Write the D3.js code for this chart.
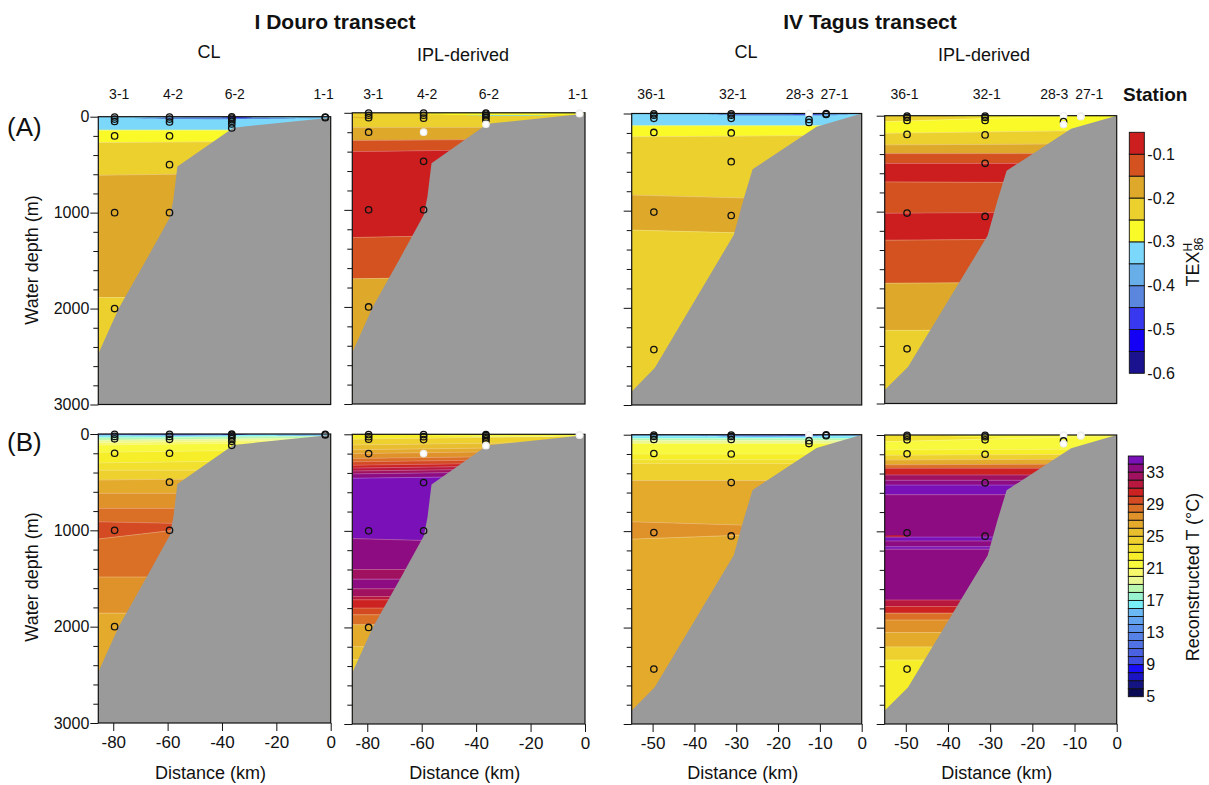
<!DOCTYPE html>
<html>
<head>
<meta charset="utf-8">
<script src="https://d3js.org/d3.v7.min.js"></script>
<style>
body { margin: 0; background: #fff; }
text { font-family: Arial, "Liberation Sans", sans-serif; fill: #111; }
</style>
</head>
<body>
<div id="chart"></div>
<script>
// ---- stations ----
var douroStations = ["3-1", "4-2", "6-2", "1-1"];
var douroKm = [-79.5, -59.3, -36.4, -2.0];
var douroLabelKm = [-77.8, -58, -35.3, -2.6];
var douroDepths = [[3, 25, 50, 200, 1000, 2000], [3, 25, 55, 200, 500, 1000], [2, 14, 30, 48, 76, 118], [3, 10]];

var tagusStations = ["36-1", "32-1", "28-3", "27-1"];
var tagusKm = [-49.7, -31.2, -12.6, -8.5];
var tagusLabelKm = [-50.3, -30.8, -14.8, -6.5];
var tagusDepths = [[3, 18, 50, 195, 1015, 2430], [3, 18, 50, 200, 496, 1050], [2, 62, 92], [2, 10]];

// samples drawn white: [station, sample]
var whiteDouroIpl = [[1, 3], [2, 5], [3, 0], [3, 1]];
var whiteTagusCl = [[2, 0]];
var whiteTagusIpl = [[2, 0], [2, 2], [3, 0], [3, 1]];

// ---- bathymetry [km, m] ----
var douroBathy = [[0, 8], [-2, 16], [-35.8, 114], [-56.4, 519], [-57.9, 865], [-59.2, 1050], [-68, 1500], [-78, 2000], [-85.5, 2470]];
var tagusBathy = [[0, 0], [-10.8, 137], [-26.1, 574], [-28.3, 890], [-30.6, 1250], [-49.5, 2620], [-55, 2860]];

// ---- field bands: [value, top depth at left edge, top depth at reference km] ----
var douroClTex = [[-0.32, 0, 0], [-0.27, 140, 140], [-0.22, 270, 265], [-0.17, 610, 600], [-0.22, 1885, 1885]];
var douroIplTex = [[-0.22, 0, 0], [-0.17, 150, 150], [-0.12, 285, 280], [-0.07, 400, 390], [-0.12, 1285, 1270], [-0.17, 1710, 1700]];
var tagusClTex = [[-0.32, 0, 0], [-0.27, 127, 127], [-0.22, 240, 232], [-0.17, 840, 870], [-0.22, 1200, 1230]];
var tagusIplTex = [[-0.22, 0, 0], [-0.27, 62, 25], [-0.22, 184, 168], [-0.17, 305, 298], [-0.12, 395, 395], [-0.07, 497, 497],
  [-0.12, 690, 695], [-0.07, 1016, 1010], [-0.12, 1298, 1290], [-0.17, 1747, 1740], [-0.22, 2237, 2237]];

var douroClT = [[12, 0, 0], [16.5, 18, 14], [18.5, 40, 34], [19.5, 65, 58], [20.5, 90, 80], [21.5, 115, 105], [22.5, 190, 180],
  [23.5, 300, 290], [24.5, 375, 375], [26.5, 478, 470], [27.5, 616, 616], [28.5, 772, 772], [29.5, 911, 927],
  [28.5, 1090, 1000], [27.5, 1485, 1485], [26.5, 1860, 1860]];
var douroIplT = [[22, 0, 0], [24.5, 50, 40], [25.5, 110, 100], [26.5, 160, 150], [27.5, 200, 190], [28.5, 250, 240],
  [29.5, 285, 275], [30.5, 320, 310], [31.5, 350, 340], [32.5, 380, 370], [33.5, 410, 400], [34.5, 455, 445],
  [33.5, 1080, 1100], [32.5, 1400, 1400], [33.5, 1500, 1500], [32.5, 1600, 1600], [31.5, 1680, 1680], [30.5, 1714, 1714],
  [29.5, 1800, 1800], [28.5, 1869, 1869], [26.5, 1972, 1972], [25.5, 2200, 2200], [24.5, 2334, 2334]];
var tagusClT = [[14, 0, 0], [16.5, 15, 15], [18, 40, 40], [19.5, 60, 60], [21.5, 90, 90], [22.5, 200, 200], [23.5, 260, 260],
  [24.5, 300, 300], [26.5, 475, 475], [27.5, 903, 938], [26.5, 1083, 1041]];
var tagusIplT = [[23.5, 0, 0], [21.5, 70, 40], [22.5, 155, 150], [24.5, 210, 205], [26.5, 260, 255], [28.5, 310, 305],
  [30.5, 345, 345], [32.5, 415, 415], [33.5, 470, 470], [34.5, 520, 520], [33.5, 620, 620], [34.5, 1060, 1060],
  [33.5, 1100, 1100], [34.5, 1160, 1160], [33.5, 1185, 1185], [31.5, 1713, 1713], [30.5, 1780, 1780], [28.5, 1850, 1850],
  [27.5, 1921, 1921], [26.5, 2050, 2050], [24.5, 2200, 2200], [22.5, 2336, 2336]];

// ---- small patches: [value, km start, km end, centre depth, half thickness] ----
var douroClTexLens = [[-0.42, -73, -12, 16, 10], [-0.47, -40, -29, 10, 6], [-0.37, -14, 0, 12, 6]];
var douroIplTexLens = [[-0.27, -62, 6, 12, 14], [-0.32, -47, -12, 26, 4], [-0.17, -86, -78, 50, 5]];
var tagusClTexLens = [[-0.42, -37, -3, 12, 9], [-0.47, -18, -9, 6, 5]];
var tagusIplTexLens = [[-0.27, -40, 0, 10, 12]];
var douroClTLens = [[10.5, -80, -30, 8, 7], [7.5, -42, -30, 6, 5], [14.5, -22, 0, 10, 8], [17.5, -86, -60, 35, 8]];
var douroIplTLens = [[21.5, -62, 6, 12, 12], [19.5, -45, -8, 22, 3]];
var tagusClTLens = [[12, -42, -5, 12, 8], [9.5, -20, -10, 6, 5]];
var tagusIplTLens = [[21.5, -40, 2, 14, 16], [31.5, -56, -49, 1050, 12]];

// ---- colour scales ----
var texColors = ["#1b1290", "#1400f5", "#3838ee", "#5a86de", "#68aee8", "#7cd8fa", "#fafa28", "#ecd02e", "#dea82a", "#d4521f", "#cc1e1e"];
var texBreaks = [-0.55, -0.5, -0.45, -0.4, -0.35, -0.3, -0.25, -0.2, -0.15, -0.1];
var texTicks = [-0.1, -0.2, -0.3, -0.4, -0.5, -0.6];
var tColors = ["#0b0a55", "#141482", "#1a14c4", "#1a0ef8", "#3f4ee0", "#4a62e2", "#5072e4", "#5682e8", "#5c92ec", "#62a4f0",
  "#6ab8f4", "#78eef8", "#98f4d0", "#b8f8b0", "#eaf894", "#f8f86c", "#f8f83c", "#f6ee28", "#f2e02e", "#eed02e",
  "#e8be2e", "#e4aa2c", "#e0922a", "#da7026", "#d44a22", "#cc2222", "#b8183e", "#a01260", "#8e0c82", "#7a10b8"];
var tBreaks = d3.range(6, 35);
var tTicks = [33, 29, 25, 21, 17, 13, 9, 5];

var douroTicks = [-80, -60, -40, -20, 0];
var tagusTicks = [-50, -40, -30, -20, -10, 0];

var texColor = d3.scaleThreshold().domain(texBreaks).range(texColors);
var tColor = d3.scaleThreshold().domain(tBreaks).range(tColors);

var svg = d3.select("#chart").append("svg")
    .attr("width", 1209)
    .attr("height", 785);

var douro = {km: douroKm, labelKm: douroLabelKm, names: douroStations, depths: douroDepths, bathy: douroBathy, kmMin: -85.5, refKm: -58, ticks: douroTicks};
var tagus = {km: tagusKm, labelKm: tagusLabelKm, names: tagusStations, depths: tagusDepths, bathy: tagusBathy, kmMin: -55, refKm: -28, ticks: tagusTicks};

var panels = [
  {id: "a1", t: douro, box: [98.3, 330.7, 116.7, 404.5], bands: douroClTex, lens: douroClTexLens, color: texColor, white: [], yLabels: true, xAxis: false},
  {id: "a2", t: douro, box: [352.3, 585, 112.8, 404], bands: douroIplTex, lens: douroIplTexLens, color: texColor, white: whiteDouroIpl, yLabels: false, xAxis: false},
  {id: "a3", t: tagus, box: [631.7, 861.7, 113.5, 405], bands: tagusClTex, lens: tagusClTexLens, color: texColor, white: whiteTagusCl, yLabels: false, xAxis: false},
  {id: "a4", t: tagus, box: [884.7, 1116.7, 115.7, 403.5], bands: tagusIplTex, lens: tagusIplTexLens, color: texColor, white: whiteTagusIpl, yLabels: false, xAxis: false},
  {id: "b1", t: douro, box: [98.3, 330.7, 434, 723], bands: douroClT, lens: douroClTLens, color: tColor, white: [], yLabels: true, xAxis: true},
  {id: "b2", t: douro, box: [352.3, 585, 434.3, 724], bands: douroIplT, lens: douroIplTLens, color: tColor, white: whiteDouroIpl, yLabels: false, xAxis: true},
  {id: "b3", t: tagus, box: [631.7, 861.7, 434.7, 724], bands: tagusClT, lens: tagusClTLens, color: tColor, white: whiteTagusCl, yLabels: false, xAxis: true},
  {id: "b4", t: tagus, box: [884.7, 1116.7, 435, 724], bands: tagusIplT, lens: tagusIplTLens, color: tColor, white: whiteTagusIpl, yLabels: false, xAxis: true}
];

var fontStack = "Arial, 'Liberation Sans', sans-serif";

panels.forEach(function(p) {
  var t = p.t;
  var x = d3.scaleLinear().domain([t.kmMin, 0]).range([p.box[0], p.box[1]]);
  var y = d3.scaleLinear().domain([0, 3000]).range([p.box[2], p.box[3]]);
  var g = svg.append("g");

  g.append("clipPath").attr("id", "clip-" + p.id)
    .append("rect")
      .attr("x", p.box[0]).attr("y", p.box[2])
      .attr("width", p.box[1] - p.box[0]).attr("height", p.box[3] - p.box[2]);
  var body = g.append("g").attr("clip-path", "url(#clip-" + p.id + ")");

  function depthAt(b, km) { return b[1] + (b[2] - b[1]) * (km - t.kmMin) / (t.refKm - t.kmMin); }
  var line = d3.line().x(function(d) { return x(d[0]); }).y(function(d) { return y(d[1]); });

  // bands
  p.bands.forEach(function(b, i) {
    var nb = p.bands[i + 1];
    var pts = [[t.kmMin, b[1]], [0, depthAt(b, 0)]];
    if (nb) pts.push([0, depthAt(nb, 0)], [t.kmMin, nb[1]]);
    else pts.push([0, 3000], [t.kmMin, 3000]);
    body.append("path")
      .attr("d", line(pts) + "Z")
      .attr("fill", p.color(b[0]))
      .attr("stroke", p.color(b[0]))
      .attr("stroke-width", 0.5);
  });

  // patches
  var lensLine = d3.line().x(function(d) { return x(d[0]); }).y(function(d) { return y(d[1]); }).curve(d3.curveCardinalClosed);
  p.lens.forEach(function(l) {
    var k0 = l[1], k1 = l[2], c = l[3], h = l[4], m = (k0 + k1) / 2, q = (k1 - k0) / 4;
    var pts = [[k0, c], [k0 + q, c - h * 0.85], [m, c - h], [k1 - q, c - h * 0.85], [k1, c], [k1 - q, c + h * 0.85], [m, c + h], [k0 + q, c + h * 0.85]];
    body.append("path").attr("d", lensLine(pts)).attr("fill", p.color(l[0]));
  });

  // faint contour lines
  p.bands.forEach(function(b, i) {
    if (i === 0) return;
    body.append("path")
      .attr("d", line([[t.kmMin, b[1]], [0, depthAt(b, 0)]]))
      .attr("fill", "none")
      .attr("stroke", "rgba(255,255,255,0.35)")
      .attr("stroke-width", 0.7);
  });

  // bathymetry
  var bathyPts = t.bathy.concat([[t.kmMin, 3000], [0, 3000]]);
  body.append("path").attr("d", line(bathyPts) + "Z").attr("fill", "#9a9a9a");

  // frame
  g.append("rect")
    .attr("x", p.box[0]).attr("y", p.box[2])
    .attr("width", p.box[1] - p.box[0]).attr("height", p.box[3] - p.box[2])
    .attr("fill", "none").attr("stroke", "#111").attr("stroke-width", 1.2);

  // y axis
  var yAxis = d3.axisLeft(y).tickValues(d3.range(0, 3001, 200))
    .tickSize(5).tickPadding(3)
    .tickFormat(function(d) { return (p.yLabels && d % 1000 === 0) ? String(d) : ""; });
  var ya = g.append("g").attr("transform", "translate(" + p.box[0] + ",0)").call(yAxis);
  ya.select(".domain").remove();
  ya.selectAll(".tick line").attr("x2", function(d) { return d % 1000 === 0 ? -8 : -5; }).attr("stroke", "#111");
  ya.selectAll(".tick text").attr("x", -9).style("font-size", "16px").style("font-family", fontStack).attr("fill", "#111");

  // x axis
  if (p.xAxis) {
    var xa = g.append("g").attr("transform", "translate(0," + p.box[3] + ")")
      .call(d3.axisBottom(x).tickValues(t.ticks).tickSize(8).tickPadding(5).tickFormat(function(d) { return String(d); }));
    xa.select(".domain").remove();
    xa.selectAll(".tick line").attr("stroke", "#111");
    xa.selectAll(".tick text").style("font-size", "17px").style("font-family", fontStack).attr("fill", "#111");
    g.append("text")
      .attr("x", (p.box[0] + p.box[1]) / 2 - 4)
      .attr("y", 779)
      .attr("text-anchor", "middle")
      .style("font-size", "18px")
      .text("Distance (km)");
  } else {
    // station names
    t.names.forEach(function(n, i) {
      g.append("text")
        .attr("x", x(t.labelKm[i]))
        .attr("y", 99)
        .attr("text-anchor", "middle")
        .style("font-size", "14px")
        .text(n);
    });
  }

  // sampling points
  t.depths.forEach(function(ds, i) {
    ds.forEach(function(d, j) {
      var isWhite = p.white.some(function(w) { return w[0] === i && w[1] === j; });
      g.append("circle")
        .attr("cx", x(t.km[i]))
        .attr("cy", y(d))
        .attr("r", 3.2)
        .attr("fill", isWhite ? "#fff" : "none")
        .attr("stroke", isWhite ? "#eee" : "#111")
        .attr("stroke-width", 1.3);
    });
  });
});

// titles
svg.append("text").attr("x", 335).attr("y", 29).attr("text-anchor", "middle")
  .style("font-size", "21px").style("font-weight", "bold").text("I Douro transect");
svg.append("text").attr("x", 870).attr("y", 29).attr("text-anchor", "middle")
  .style("font-size", "21px").style("font-weight", "bold").text("IV Tagus transect");
[["CL", 209, 58], ["IPL-derived", 463, 61], ["CL", 746, 58], ["IPL-derived", 984, 61]].forEach(function(s) {
  svg.append("text").attr("x", s[1]).attr("y", s[2]).attr("text-anchor", "middle")
    .style("font-size", "18px").text(s[0]);
});
svg.append("text").attr("x", 7).attr("y", 136).style("font-size", "26px").text("(A)");
svg.append("text").attr("x", 7).attr("y", 451).style("font-size", "26px").text("(B)");
svg.append("text").attr("x", 1123).attr("y", 101).style("font-size", "19px").style("font-weight", "bold").text("Station");
[260, 577].forEach(function(cy) {
  svg.append("text").attr("transform", "translate(38," + cy + ") rotate(-90)")
    .attr("text-anchor", "middle").style("font-size", "18px").text("Water depth (m)");
});

// colour bars
function colorBar(colors, domain, ticks, box) {
  var cy = d3.scaleLinear().domain(domain).range([box[3], box[2]]);
  var step = (domain[1] - domain[0]) / colors.length;
  var g = svg.append("g");
  colors.forEach(function(c, i) {
    var v0 = domain[0] + i * step;
    g.append("rect")
      .attr("x", box[0]).attr("width", box[1] - box[0])
      .attr("y", cy(v0 + step)).attr("height", cy(v0) - cy(v0 + step))
      .attr("fill", c).attr("stroke", "#111").attr("stroke-width", 0.9);
  });
  var ax = g.append("g").attr("transform", "translate(" + box[1] + ",0)")
    .call(d3.axisRight(cy).tickValues(ticks).tickSize(0).tickPadding(3).tickFormat(function(d) { return String(d); }));
  ax.select(".domain").remove();
  ax.selectAll(".tick text").style("font-size", "16px").style("font-family", fontStack).attr("fill", "#111");
}
colorBar(texColors, [-0.6, -0.05], texTicks, [1129.3, 1144.3, 132.3, 373.3]);
colorBar(tColors, [5, 35], tTicks, [1128.3, 1143.3, 456, 696.7]);

var tex = svg.append("text").attr("transform", "translate(1199,262) rotate(-90)")
  .attr("text-anchor", "middle").style("font-size", "18px");
tex.append("tspan").text("TEX");
tex.append("tspan").attr("dy", -7).style("font-size", "12px").text("H");
tex.append("tspan").attr("dx", -8).attr("dy", 11).style("font-size", "12px").text("86");
svg.append("text").attr("transform", "translate(1199,577) rotate(-90)")
  .attr("text-anchor", "middle").style("font-size", "18px").text("Reconstructed T (°C)");
</script>
</body>
</html>
